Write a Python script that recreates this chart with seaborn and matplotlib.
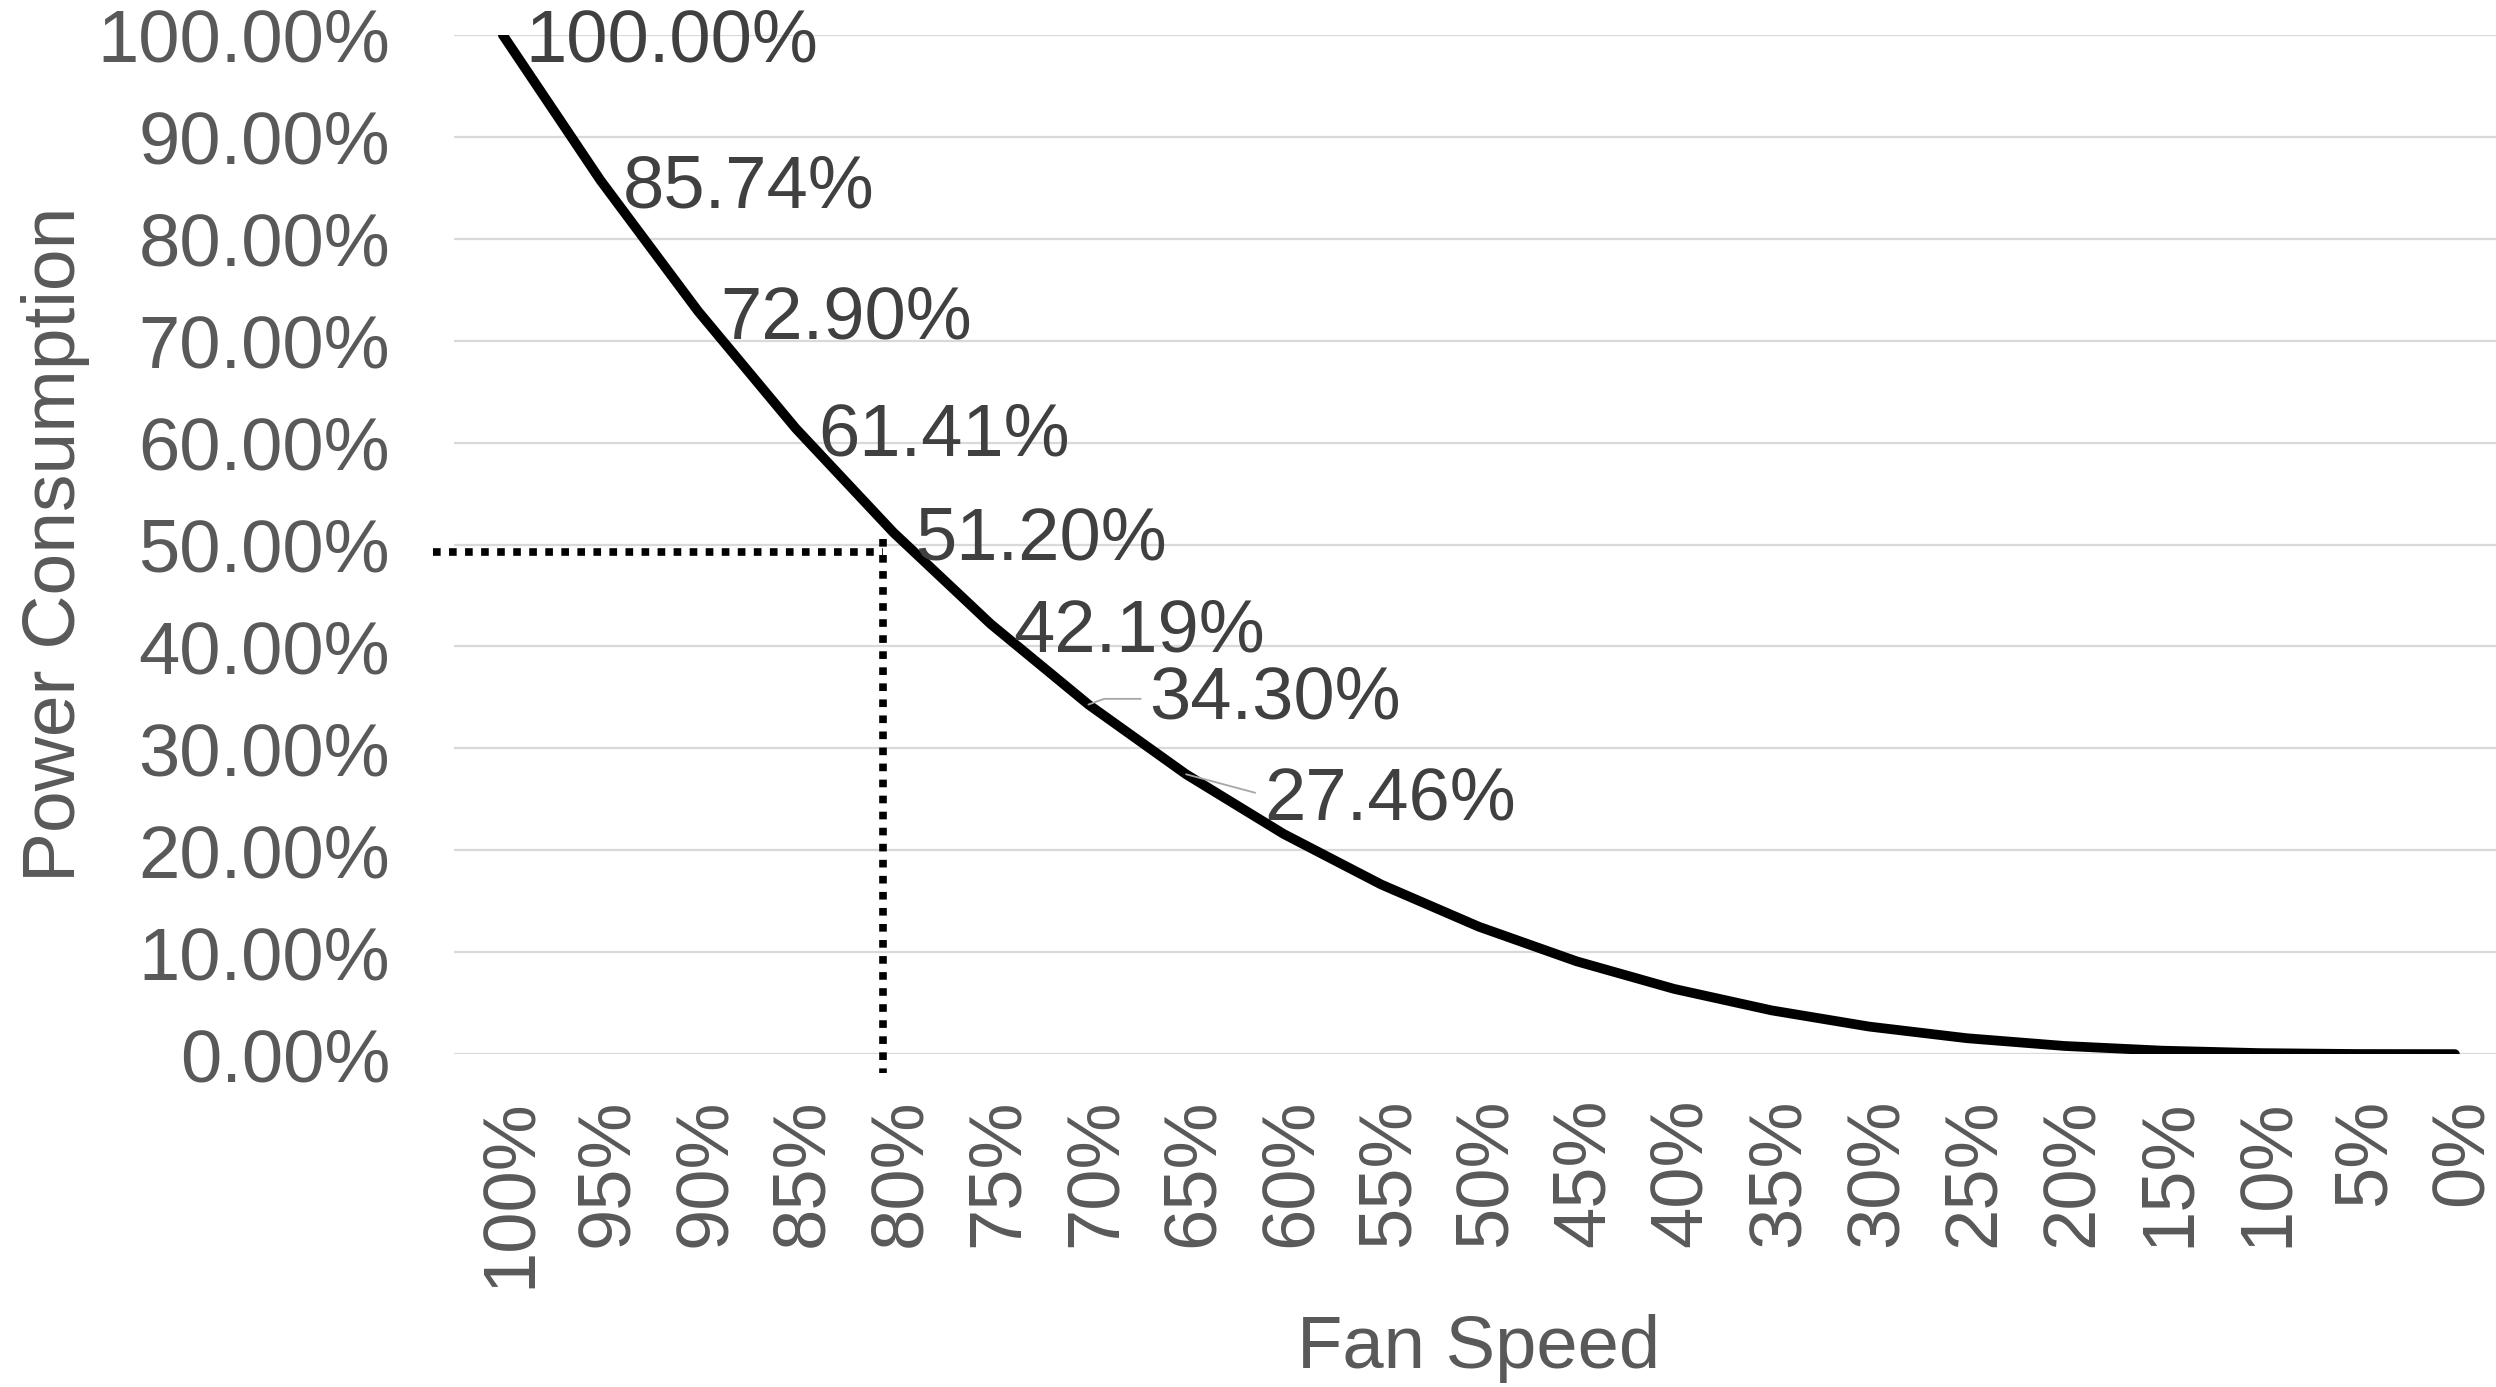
import matplotlib
matplotlib.use("Agg")
import matplotlib.pyplot as plt
import pandas as pd
import seaborn as sns

# Fan affinity law: power consumption against fan speed
fan_speed = ["100%", "95%", "90%", "85%", "80%", "75%", "70%", "65%", "60%", "55%",
             "50%", "45%", "40%", "35%", "30%", "25%", "20%", "15%", "10%", "5%", "0%"]
power_pct = [100.00, 85.74, 72.90, 61.41, 51.20, 42.19, 34.30, 27.46, 21.60, 16.64,
             12.50, 9.11, 6.40, 4.29, 2.70, 1.56, 0.80, 0.34, 0.10, 0.01, 0.00]
y_ticks = [0, 10, 20, 30, 40, 50, 60, 70, 80, 90, 100]

# data labels shown on the first points, with their offsets (points)
n_labelled = 8
label_offsets = [(16, 0), (16, 0), (16, 0), (16, 0), (16, 0), (16, 0), (44, 9.5), (56, -13)]
leader_angles = [None, None, None, None, None, None, 20, -15]

# dotted guide marking roughly half power at 80% speed
guide_x = 3.9
guide_y = 49.3
guide_left = -0.72
guide_top = 50.5
guide_bottom = -1.9

df = pd.DataFrame({"Fan Speed": fan_speed, "Power Consumption": power_pct})

sns.set_theme(style="white")
plt.rcParams["font.family"] = ["Liberation Sans", "DejaVu Sans"]

TICK_GREY = "#595959"
LABEL_GREY = "#404040"
GRID_GREY = "#d9d9d9"
FS = 53.5

fig = plt.figure(figsize=(24.96, 13.87), dpi=100)
ax = fig.add_axes([0.1819, 0.240, 0.8212, 0.7348])

sns.lineplot(data=df, x="Fan Speed", y="Power Consumption", ax=ax, color="black",
             linewidth=7, sort=False, solid_capstyle="round", zorder=3)

ax.set_xlim(-0.5, 20.5)
ax.set_ylim(0, 100)
ax.set_yticks(y_ticks)
ax.set_yticklabels([f"{v:.2f}%" for v in y_ticks])
ax.set_xticks(range(len(fan_speed)))
ax.set_xticklabels(fan_speed)

ax.grid(axis="y", color=GRID_GREY, linewidth=1.6, zorder=0)
ax.grid(axis="x", visible=False)
for s in ax.spines.values():
    s.set_visible(False)

ax.tick_params(axis="y", length=0, pad=46, labelsize=FS, labelcolor=TICK_GREY)
ax.tick_params(axis="x", length=0, pad=32, labelsize=FS, labelcolor=TICK_GREY)
for lab in ax.get_xticklabels():
    lab.set_rotation(90)
    lab.set_rotation_mode("anchor")
    lab.set_ha("right")
    lab.set_va("center_baseline")

ax.set_xlabel("Fan Speed", fontsize=FS, color=TICK_GREY)
ax.set_ylabel("Power Consumption", fontsize=FS + 0.5, color=TICK_GREY)
ax.xaxis.set_label_coords(0.5, -0.289)
ax.xaxis.label.set_va("center")
ax.yaxis.set_label_coords(-0.1945, 0.5)
ax.yaxis.label.set_va("center")

# data labels
for i in range(n_labelled):
    dx, dy = label_offsets[i]
    kw = {}
    if leader_angles[i] is not None:
        kw["arrowprops"] = dict(arrowstyle="-", color="#a6a6a6", linewidth=1.3,
                                shrinkA=4, shrinkB=0, relpos=(0, 0.5),
                                connectionstyle=f"angle,angleA=0,angleB={leader_angles[i]},rad=0")
    ax.annotate(f"{power_pct[i]:.2f}%", xy=(i, power_pct[i]), xytext=(dx, dy),
                textcoords="offset points", ha="left", va="center_baseline",
                fontsize=FS, color=LABEL_GREY, zorder=4, annotation_clip=False, **kw)

# dotted guides
guide_style = dict(color="black", linewidth=5.5, linestyle=(0, (1, 1.1)),
                   dash_capstyle="butt", clip_on=False, zorder=2)
ax.plot([guide_left, guide_x], [guide_y, guide_y], **guide_style)
ax.plot([guide_x, guide_x], [guide_top, guide_bottom], **guide_style)

fig.savefig("out.png", dpi=100, facecolor="white")
